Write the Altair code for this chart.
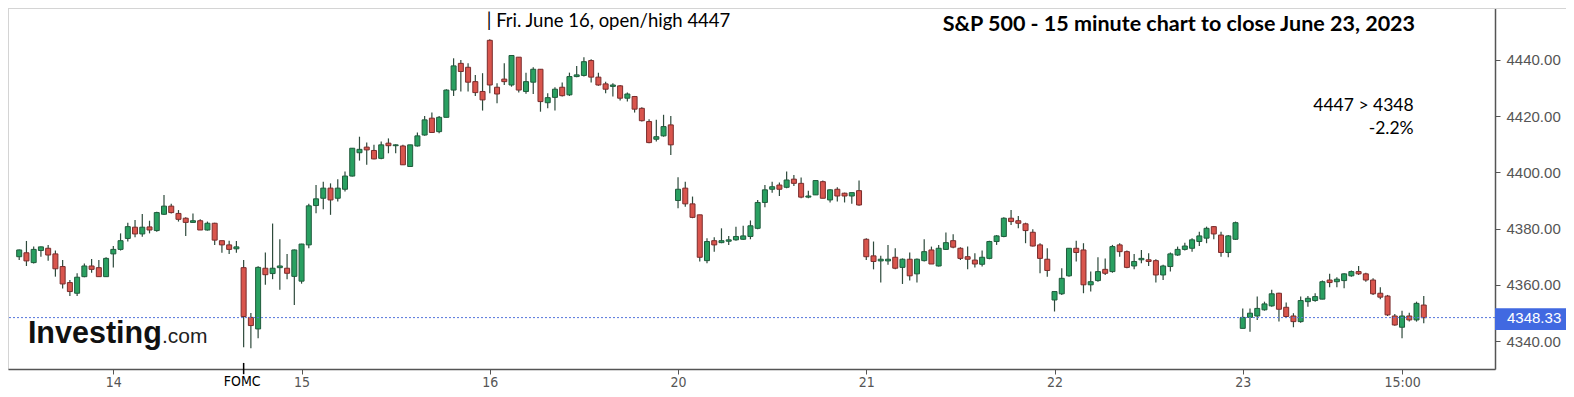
import altair as alt
import pandas as pd

# ---- 15-minute OHLC bars, June 13 (partial) to June 23, 2023 ----
opens = [
    4370.0, 4371.4, 4367.9, 4372.2, 4373.0, 4371.0, 4366.5, 4360.8, 4357.0, 4362.9, 4366.7, 4366.1, 4362.9,
    4371.0, 4372.6, 4376.5, 4380.5, 4378.1, 4380.6, 4379.3, 4385.1, 4388.0, 4385.4, 4383.7, 4382.2, 4382.8,
    4379.5, 4381.9, 4375.7, 4374.2, 4372.8, 4366.1, 4348.4, 4344.3, 4365.9, 4364.0, 4366.1, 4365.9, 4363.0,
    4361.3, 4374.2, 4388.2, 4390.8, 4394.4, 4390.8, 4394.0, 4398.7, 4407.0, 4409.0, 4407.8, 4405.0, 4410.4,
    4409.5, 4409.4, 4402.1, 4409.4, 4413.3, 4419.3, 4414.5, 4419.6, 4429.3, 4438.8, 4437.4, 4432.3, 4428.8,
    4447.0, 4430.3, 4433.2, 4431.1, 4441.0, 4428.8, 4432.1, 4436.7, 4424.8, 4426.7, 4430.3, 4427.6, 4434.1,
    4434.5, 4439.8, 4433.9, 4431.5, 4430.6, 4430.8, 4426.4, 4427.0, 4422.8, 4418.1, 4411.8, 4413.0, 4416.9,
    4390.0, 4394.4, 4388.8, 4384.9, 4368.6, 4375.7, 4375.0, 4375.5, 4376.0, 4376.2, 4377.2, 4380.1, 4389.3,
    4394.0, 4395.5, 4394.7, 4397.6, 4396.1, 4391.2, 4392.0, 4396.7, 4390.2, 4394.0, 4392.6, 4391.6, 4393.5,
    4376.2, 4370.3, 4368.5, 4368.5, 4369.8, 4366.2, 4369.1, 4363.9, 4368.6, 4372.4, 4366.7, 4372.6, 4375.7,
    4373.0, 4370.0, 4368.8, 4367.3, 4369.4, 4375.4, 4377.2, 4383.7, 4382.8, 4381.7, 4378.7, 4374.2, 4369.1,
    4354.6, 4356.8, 4363.2, 4373.0, 4372.4, 4360.0, 4361.5, 4365.5, 4364.7, 4374.2, 4371.8, 4366.7, 4368.9,
    4368.9, 4368.6, 4363.5, 4366.5, 4370.6, 4372.6, 4373.0, 4375.4, 4376.6, 4380.7, 4377.7, 4371.5, 4376.2,
    4344.5, 4348.4, 4348.9, 4351.1, 4352.5, 4357.0, 4352.0, 4348.9, 4346.9, 4354.0, 4354.4, 4354.9, 4361.7,
    4361.1, 4361.5, 4363.2, 4364.7, 4363.9, 4361.7, 4357.0, 4356.0, 4348.9, 4344.9, 4348.9, 4347.5, 4352.8,
]
highs = [
    4372.6, 4375.6, 4373.6, 4373.6, 4374.2, 4372.2, 4368.8, 4361.7, 4364.1, 4367.6, 4369.2, 4368.8, 4369.8,
    4373.8, 4378.3, 4382.1, 4383.1, 4385.2, 4382.8, 4386.0, 4392.0, 4388.8, 4386.6, 4384.0, 4385.4, 4383.3,
    4382.5, 4382.1, 4375.7, 4375.7, 4375.6, 4368.8, 4350.0, 4366.6, 4371.5, 4381.8, 4376.2, 4371.0, 4372.6,
    4374.6, 4388.8, 4395.5, 4396.7, 4396.1, 4397.6, 4400.3, 4408.7, 4412.7, 4410.6, 4409.8, 4411.0, 4412.1,
    4410.0, 4409.8, 4409.8, 4414.2, 4420.1, 4421.3, 4420.1, 4429.6, 4440.6, 4440.0, 4438.8, 4434.7, 4435.3,
    4447.4, 4431.7, 4438.8, 4441.6, 4441.0, 4435.5, 4437.4, 4436.7, 4428.2, 4430.3, 4432.0, 4435.5, 4437.9,
    4441.0, 4440.3, 4435.5, 4432.3, 4431.7, 4431.1, 4428.4, 4427.2, 4423.2, 4418.9, 4418.7, 4420.5, 4420.1,
    4398.3, 4396.7, 4391.4, 4384.9, 4376.6, 4376.9, 4380.1, 4377.4, 4380.7, 4381.0, 4382.9, 4390.2, 4395.5,
    4396.7, 4396.4, 4400.3, 4399.1, 4398.2, 4393.5, 4397.1, 4397.1, 4394.0, 4394.7, 4392.8, 4392.8, 4397.1,
    4376.6, 4375.4, 4370.3, 4374.2, 4373.0, 4369.4, 4371.5, 4369.4, 4376.2, 4373.6, 4374.2, 4378.6, 4378.0,
    4373.4, 4373.6, 4371.2, 4372.2, 4375.7, 4377.7, 4384.0, 4386.6, 4384.5, 4382.1, 4379.8, 4374.8, 4373.0,
    4357.6, 4365.9, 4373.0, 4375.7, 4374.8, 4364.7, 4369.8, 4369.4, 4374.2, 4374.8, 4372.2, 4371.0, 4372.4,
    4371.2, 4369.1, 4367.1, 4371.5, 4373.6, 4375.0, 4376.6, 4378.9, 4380.7, 4380.9, 4378.9, 4377.7, 4382.5,
    4351.6, 4351.6, 4355.8, 4354.0, 4358.2, 4357.2, 4353.7, 4349.9, 4355.8, 4356.0, 4357.0, 4361.5, 4363.9,
    4362.7, 4364.1, 4365.1, 4366.7, 4364.3, 4362.3, 4359.1, 4356.4, 4349.6, 4350.8, 4350.1, 4354.0, 4356.0,
]
lows = [
    4368.8, 4366.7, 4367.6, 4370.0, 4368.6, 4362.9, 4358.7, 4356.0, 4356.0, 4362.7, 4364.3, 4362.9, 4362.9,
    4366.2, 4372.2, 4375.4, 4376.9, 4377.1, 4378.3, 4378.9, 4384.8, 4385.4, 4382.5, 4377.4, 4382.2, 4379.5,
    4379.3, 4374.2, 4371.4, 4371.0, 4371.4, 4337.8, 4337.4, 4341.0, 4360.0, 4362.0, 4358.2, 4362.0, 4352.8,
    4360.4, 4373.0, 4385.5, 4386.9, 4384.9, 4389.6, 4393.2, 4398.5, 4404.2, 4402.7, 4404.7, 4404.7, 4406.8,
    4406.8, 4402.7, 4402.1, 4409.2, 4413.0, 4414.0, 4413.9, 4419.6, 4427.2, 4428.8, 4428.8, 4427.2, 4422.0,
    4428.2, 4424.6, 4431.1, 4430.5, 4428.4, 4428.0, 4427.9, 4421.6, 4422.8, 4422.0, 4427.0, 4427.2, 4433.9,
    4434.1, 4432.0, 4430.8, 4428.2, 4427.0, 4425.6, 4425.2, 4421.3, 4418.1, 4410.4, 4411.0, 4412.7, 4406.2,
    4387.2, 4387.8, 4383.7, 4368.3, 4367.7, 4371.8, 4374.8, 4374.2, 4375.7, 4376.0, 4376.2, 4379.8, 4387.6,
    4392.8, 4391.6, 4394.4, 4395.2, 4390.8, 4390.8, 4392.0, 4390.8, 4389.3, 4389.6, 4389.3, 4388.8, 4388.1,
    4368.8, 4365.5, 4360.8, 4367.1, 4365.5, 4360.3, 4361.5, 4360.8, 4368.3, 4367.4, 4366.5, 4372.4, 4373.0,
    4368.8, 4365.5, 4366.2, 4366.5, 4369.1, 4374.2, 4376.9, 4381.3, 4380.1, 4374.8, 4373.6, 4364.1, 4362.9,
    4350.5, 4356.4, 4362.9, 4368.3, 4357.0, 4357.6, 4361.1, 4363.5, 4364.3, 4370.0, 4365.9, 4365.5, 4367.7,
    4366.7, 4360.8, 4361.7, 4364.7, 4370.3, 4372.2, 4371.8, 4373.8, 4374.8, 4376.2, 4370.0, 4369.8, 4376.0,
    4344.5, 4343.3, 4347.5, 4350.8, 4352.2, 4346.9, 4348.4, 4344.9, 4346.5, 4352.2, 4354.0, 4354.9, 4359.1,
    4359.1, 4358.8, 4362.9, 4363.5, 4361.1, 4356.4, 4354.9, 4348.9, 4345.4, 4341.0, 4346.9, 4346.9, 4346.3,
]
closes = [
    4372.4, 4368.5, 4372.6, 4373.5, 4370.6, 4365.7, 4360.3, 4357.6, 4362.7, 4366.7, 4365.5, 4362.9, 4369.4,
    4372.6, 4375.7, 4380.7, 4378.1, 4380.5, 4379.5, 4385.7, 4388.0, 4385.7, 4383.3, 4382.2, 4382.8, 4379.5,
    4381.9, 4375.9, 4374.2, 4372.6, 4373.5, 4348.7, 4345.5, 4366.2, 4363.6, 4365.9, 4366.7, 4364.1, 4372.4,
    4374.5, 4388.1, 4390.6, 4394.4, 4390.2, 4394.4, 4398.7, 4408.6, 4408.2, 4408.0, 4404.8, 4409.8, 4409.5,
    4409.8, 4402.7, 4409.8, 4413.0, 4418.7, 4414.2, 4419.6, 4429.3, 4437.9, 4435.9, 4432.1, 4428.4, 4425.8,
    4431.1, 4427.9, 4432.3, 4441.6, 4429.3, 4432.3, 4436.7, 4425.2, 4426.6, 4429.6, 4427.3, 4434.1, 4434.7,
    4439.4, 4433.9, 4431.1, 4429.6, 4431.1, 4426.4, 4427.9, 4422.5, 4418.4, 4410.6, 4412.7, 4416.3, 4409.8,
    4394.0, 4388.8, 4384.0, 4369.8, 4375.4, 4374.2, 4375.7, 4376.0, 4377.2, 4377.4, 4381.0, 4389.3, 4393.8,
    4394.9, 4394.0, 4397.3, 4396.1, 4391.2, 4391.6, 4397.1, 4390.8, 4393.8, 4391.6, 4391.6, 4392.8, 4388.4,
    4370.0, 4368.3, 4369.1, 4369.1, 4365.9, 4369.1, 4363.2, 4369.1, 4371.8, 4367.4, 4373.0, 4375.0, 4373.4,
    4369.4, 4369.1, 4367.4, 4369.8, 4375.4, 4377.4, 4383.7, 4382.5, 4381.9, 4379.3, 4373.8, 4369.4, 4365.1,
    4357.6, 4362.3, 4373.0, 4371.5, 4360.0, 4361.1, 4364.7, 4364.1, 4373.6, 4371.8, 4366.2, 4368.3, 4369.4,
    4368.3, 4363.5, 4366.7, 4371.0, 4372.6, 4373.8, 4376.0, 4377.4, 4380.1, 4378.1, 4371.5, 4377.4, 4382.1,
    4348.4, 4349.9, 4351.6, 4353.2, 4356.8, 4351.3, 4348.7, 4346.9, 4354.4, 4355.2, 4355.8, 4361.1, 4360.8,
    4362.0, 4363.9, 4364.7, 4363.9, 4361.7, 4356.8, 4355.6, 4349.3, 4345.7, 4348.9, 4347.5, 4353.4, 4348.3,
]
bar_index = list(range(1, len(opens) + 1))

# axis ticks: first bar of each session, plus 15:00 on June 23
tick_bars = [14, 40, 66, 92, 118, 144, 170, 192]
tick_labels = ["14", "15", "16", "20", "21", "22", "23", "15:00"]
y_ticks = [4340, 4360, 4380, 4400, 4420, 4440]

last_price = 4348.33
fomc_bar = 32
high_bar = 66

title_text = "S&P 500 - 15 minute chart to close June 23, 2023"
move_text = "4447 > 4348"
pct_text = "-2.2%"
note_text = "| Fri. June 16, open/high 4447"

df = pd.DataFrame({"i": bar_index, "open": opens, "high": highs, "low": lows, "close": closes})

W, H = 1487, 361
RIGHT = 71
xs = alt.Scale(domain=[0.1435, 204.15], nice=False, zero=False)
ys = alt.Scale(domain=[4330.04, 4458.5], nice=False, zero=False)

label_expr = " : ".join(
    f"datum.value == {b} ? '{l}'" for b, l in zip(tick_bars, tick_labels)
) + " : ''"

NARROW = "DejaVu Sans Condensed, Liberation Sans Narrow, Liberation Sans"

XA = alt.Axis(values=tick_bars, labelExpr=label_expr, grid=False, title=None,
              domainColor="#555", domainWidth=1.5, tickColor="#555",
              tickSize=5, labelColor="#555", labelFont=NARROW,
              labelFontSize=14, labelPadding=1, labelFlush=False)
YA = alt.Axis(orient="right", values=y_ticks, format=".2f", grid=False, title=None,
              domainColor="#555", domainWidth=1.5, tickColor="#555",
              tickSize=5, labelColor="#555", labelFont="Liberation Sans",
              labelFontSize=15, labelPadding=6)


def X(f):
    return alt.X(f, scale=xs, axis=XA, title=None)


def Y(f):
    return alt.Y(f, scale=ys, axis=YA, title=None)


base = alt.Chart(df)

wicks = base.mark_rule(color="#2e4a3c", strokeWidth=1.2).encode(
    x=X("i:Q"), y=Y("low:Q"), y2="high:Q",
)

bodies = base.mark_bar(size=5, strokeWidth=1).encode(
    x=X("i:Q"), y=Y("open:Q"), y2="close:Q",
    fill=alt.condition("datum.close >= datum.open", alt.value("#29a061"), alt.value("#d9554d")),
    stroke=alt.condition("datum.close >= datum.open", alt.value("#1f5b3c"), alt.value("#7a2c2c")),
)

price_df = pd.DataFrame({"p": [last_price], "lo": [4343.9], "hi": [4351.7],
                         "t": [f"{last_price:.2f}"]})
price_line = alt.Chart(price_df).mark_rule(color="#5576dc", strokeDash=[2, 2], strokeWidth=1).encode(
    y=Y("p:Q")
)
price_box = alt.Chart(price_df).mark_rect(color="#4169e1").encode(
    x=alt.value(W), x2=alt.value(W + RIGHT),
    y=Y("lo:Q"), y2="hi:Q",
)
price_txt = alt.Chart(price_df).mark_text(
    color="white", font="Liberation Sans", fontSize=15, align="left", baseline="middle"
).encode(x=alt.value(W + 12), y=Y("p:Q"), text="t:N")

# light frame line along the top of the whole widget
frame_top = alt.Chart(price_df).mark_rule(color="#d4d4d4", strokeWidth=1).encode(
    x=alt.value(0), x2=alt.value(W + RIGHT), y=alt.value(0.5)
)


def label(x, y, t, **kw):
    d = pd.DataFrame({"x": [x], "y": [y], "t": [t]})
    return alt.Chart(d).mark_text(**kw).encode(x=X("x:Q"), y=Y("y:Q"), text="t:N")


title = label(193.8, 4452.6, title_text, font="Lato", fontWeight="bold", fontSize=21.5,
              align="right", baseline="middle", color="#000")
move = label(193.6, 4423.5, move_text, font="Lato", fontSize=17.5,
             align="right", baseline="middle", color="#000")
pct = label(193.6, 4415.3, pct_text, font="Lato", fontSize=17.5,
            align="right", baseline="middle", color="#000")
note = label(high_bar - 0.42, 4453.9, note_text, font="Lato", fontSize=18.5,
             align="left", baseline="middle", color="#000")
logo1 = label(2.2, 4339.2, "Investing", font="Liberation Sans", fontWeight="bold", fontSize=30.5,
              align="left", baseline="alphabetic", color="#111")
logo2 = label(2.2, 4339.2, ".com", font="Liberation Sans", fontSize=21, dx=134,
              align="left", baseline="alphabetic", color="#222")
fomc_txt = label(fomc_bar - 0.2, 4325.3, "FOMC", font=NARROW, fontSize=14,
                 align="center", baseline="middle", color="#000")

fomc_df = pd.DataFrame({"x": [fomc_bar], "a": [4332.2], "b": [4328.2]})
fomc_tick = alt.Chart(fomc_df).mark_rule(color="#000", strokeWidth=1.5).encode(
    x=X("x:Q"), y=Y("a:Q"), y2="b:Q"
)

chart = alt.layer(
    frame_top, wicks, bodies, price_line, price_box, price_txt,
    title, move, pct, note, logo1, logo2, fomc_tick, fomc_txt,
).properties(
    width=W, height=H,
    padding={"left": 0, "top": 0, "right": RIGHT, "bottom": 19},
    autosize=alt.AutoSizeParams(type="none"),
    background="white",
).configure_view(stroke="#d4d4d4", strokeWidth=1)

chart.save("out.html", embed_options={"renderer": "svg", "actions": False})
